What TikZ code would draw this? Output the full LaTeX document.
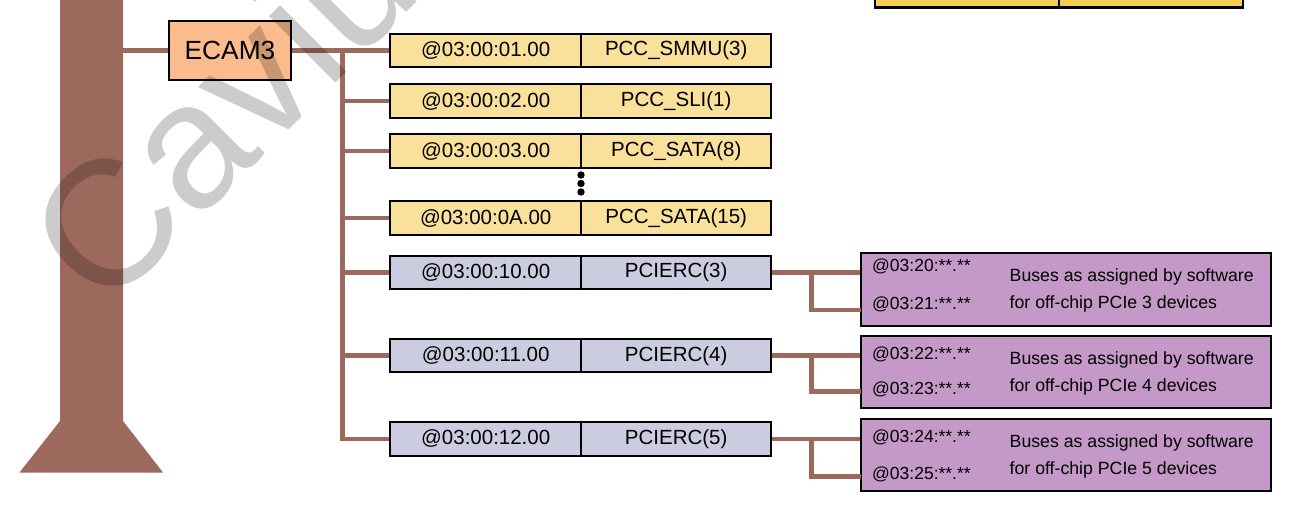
\documentclass[tikz,border=0pt]{standalone}
\usepackage{fontspec}
\setmainfont{Liberation Sans}
\definecolor{trunkc}{RGB}{157,105,93}
\definecolor{ycol}{RGB}{249,225,155}
\definecolor{lcol}{RGB}{204,204,224}
\definecolor{pcol}{RGB}{197,153,199}
\definecolor{ecol}{RGB}{250,188,140}
\definecolor{tcol}{RGB}{244,206,82}
\begin{document}
\begin{tikzpicture}[x=1pt,y=-1pt,
  cell/.style={draw=black, line width=2pt, minimum width=190.5pt, minimum height=33.5pt, inner sep=0pt, font=\fontsize{20.5}{24}\selectfont},
  ycell/.style={cell, fill=ycol},
  lcell/.style={cell, fill=lcol},
  bus/.style={draw=trunkc, line width=4.5pt},
  pbox/.style={draw=black, line width=2pt, fill=pcol, minimum width=409.7pt, minimum height=72.8pt, inner sep=0pt},
  ptext/.style={anchor=base west, inner sep=0pt, font=\fontsize{17.5}{20}\selectfont},
  dtext/.style={anchor=base west, inner sep=0pt, font=\fontsize{17.7}{20}\selectfont},
]
\useasboundingbox (0,0) rectangle (1289,515);
\clip (0,0) rectangle (1289,515);
% trunk
\fill[trunkc] (60,-5) -- (60,421) -- (19.5,472.5) -- (163,472.5) -- (123,421) -- (123,-5) -- cycle;
\coordinate (trunkR) at (123,50.5);
% top partial box
\node[draw=black, line width=2.5pt, fill=tcol, minimum width=184pt, minimum height=37.3pt, inner sep=0pt] (t1) at (967,-11.35) {};
\node[draw=black, line width=2.5pt, fill=tcol, minimum width=184pt, minimum height=37.3pt, inner sep=0pt] (t2) at (1151,-11.35) {};
% ECAM3
\node[draw=black, line width=2pt, fill=ecol, minimum width=122pt, minimum height=59pt, inner sep=0pt, font=\fontsize{26.3}{30}\selectfont] (ecam) at (230,50.5) {ECAM3};
% rows
\node[ycell] (a1) at (485.7,50.5) {@03:00:01.00};
\node[ycell] (n1) at (676.2,50.5) {PCC\_SMMU(3)};
\node[ycell] (a2) at (485.7,101) {@03:00:02.00};
\node[ycell] (n2) at (676.2,101) {PCC\_SLI(1)};
\node[ycell] (a3) at (485.7,151) {@03:00:03.00};
\node[ycell] (n3) at (676.2,151) {PCC\_SATA(8)};
\node[ycell] (a4) at (485.7,218.2) {@03:00:0A.00};
\node[ycell] (n4) at (676.2,218.2) {PCC\_SATA(15)};
\node[lcell] (a5) at (485.7,272.5) {@03:00:10.00};
\node[lcell] (n5) at (676.2,272.5) {PCIERC(3)};
\node[lcell] (a6) at (485.7,355.7) {@03:00:11.00};
\node[lcell] (n6) at (676.2,355.7) {PCIERC(4)};
\node[lcell] (a7) at (485.7,438.8) {@03:00:12.00};
\node[lcell] (n7) at (676.2,438.8) {PCIERC(5)};
% dots
\fill (581,175) circle (3.7);
\fill (581,183.5) circle (3.7);
\fill (581,192) circle (3.7);
% connectors
\draw[bus] (trunkR) -- (ecam.west);
\draw[bus] (ecam.east) -- (a1.west);
\coordinate (busTop) at (342.3,50.5);
\draw[bus] (busTop) |- (a7.west);
\foreach \i in {2,...,6} { \draw[bus] (busTop |- a\i.west) -- (a\i.west); }
% purple boxes
\node[pbox] (p5) at (1065.8,289.5) {};
\node[pbox] (p6) at (1065.8,372) {};
\node[pbox] (p7) at (1065.8,455) {};
\foreach \i/\y in {5/310,6/391.7,7/476.5} {
  \coordinate (j\i) at (811.7,0 |- n\i.east);
  \coordinate (k\i) at (861,\y);
  \draw[bus] (n\i.east) -- (n\i.east -| p\i.west);
  \draw[bus] (j\i) |- (k\i);
}
% purple texts
\node[ptext] (x5a) at (872,271.7) {@03:20:**.**};
\node[ptext] (x5b) at (872,309.3) {@03:21:**.**};
\node[dtext] (d5a) at (1009.5,281) {Buses as assigned by software};
\node[dtext] (d5b) at (1009.5,308.3) {for off-chip PCIe 3 devices};
\node[ptext] (x6a) at (872,359.3) {@03:22:**.**};
\node[ptext] (x6b) at (872,394.3) {@03:23:**.**};
\node[dtext] (d6a) at (1009.5,364.3) {Buses as assigned by software};
\node[dtext] (d6b) at (1009.5,391) {for off-chip PCIe 4 devices};
\node[ptext] (x7a) at (872,442.5) {@03:24:**.**};
\node[ptext] (x7b) at (872,479) {@03:25:**.**};
\node[dtext] (d7a) at (1009.5,447.7) {Buses as assigned by software};
\node[dtext] (d7b) at (1009.5,474.3) {for off-chip PCIe 5 devices};
% watermark
\node[rotate=45, anchor=base west, inner sep=0pt, text=black, text opacity=0.2, font=\fontsize{178}{178}\selectfont] (wm) at (104,315) {Cavium};
\end{tikzpicture}
\end{document}
